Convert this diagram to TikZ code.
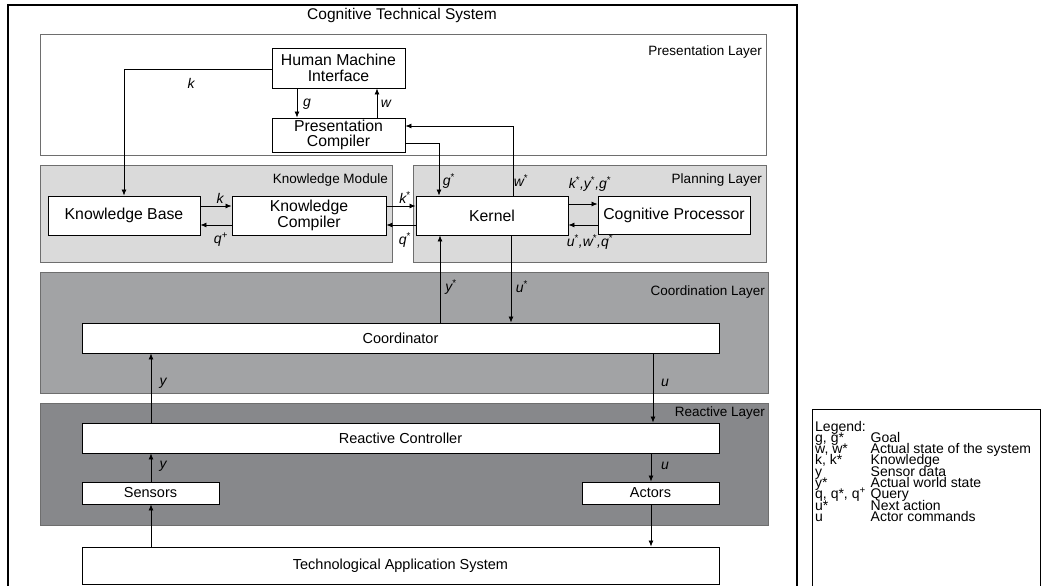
\documentclass[tikz,border=0pt]{standalone}
\usepackage{fontspec}
\setmainfont{Liberation Sans}
\usetikzlibrary{arrows.meta}
\definecolor{kmfill}{HTML}{DADADA}
\definecolor{cofill}{HTML}{A2A3A5}
\definecolor{refill}{HTML}{87888B}
\definecolor{layerline}{HTML}{6E6E6E}
\tikzset{
  box/.style={draw=black, fill=white, line width=0.9pt, align=center, inner sep=0pt, font=\fontsize{15.8}{16.5}\selectfont},
  lowbox/.style={box, font=\fontsize{14.5}{16}\selectfont},
  layer/.style={draw=layerline, line width=0.9pt},
  laylabel/.style={anchor=east, font=\fontsize{13.5}{15}\selectfont, inner sep=0pt},
  sig/.style={font=\itshape\fontsize{14}{15}\selectfont, inner sep=0pt},
  conn/.style={line width=0.8pt, -{Latex[length=6pt,width=5pt]}},
}
\newcommand{\st}[1]{#1\textsuperscript{\upshape *}}
\newcommand{\legrow}[3]{\node[anchor=base west, inner sep=0pt, font=\fontsize{14}{14}\selectfont] (#1a) at (815,#2) {#3};}
\begin{document}
\begin{tikzpicture}[x=1pt,y=-1pt]
\useasboundingbox (0,0) rectangle (1041,586);
% outer
\draw[line width=1.3pt] (8,592) -- (8,5) -- (797,5) -- (797,592);
\node[font=\fontsize{15.5}{17}\selectfont] (title) at (402,15) {Cognitive Technical System};
% layers
\draw[layer, fill=white] (40,34) rectangle (766,155);
\draw[layer, fill=kmfill] (40,165) rectangle (392,262);
\draw[layer, fill=kmfill] (413,165) rectangle (766,262);
\draw[layer, fill=cofill] (40,272) rectangle (768,393);
\draw[layer, fill=refill] (40,403) rectangle (768,525);
\node[laylabel] (lp) at (762,52) {Presentation Layer};
\node[laylabel] (lk) at (388,180) {Knowledge Module};
\node[laylabel] (lpl) at (762,180) {Planning Layer};
\node[laylabel] (lc) at (765,292) {Coordination Layer};
\node[laylabel] (lr) at (765,413) {Reactive Layer};
% boxes
\node[box, minimum width=133pt, minimum height=40pt] (hmi) at (338.5,68) {Human Machine\\Interface};
\node[box, minimum width=133pt, minimum height=34pt] (pc) at (338.5,135) {Presentation\\[-2pt]Compiler};
\node[box, minimum width=152pt, minimum height=39pt] (kb) at (124,215.5) {Knowledge Base};
\node[box, minimum width=154pt, minimum height=39pt] (kc) at (309,215.5) {Knowledge\\Compiler};
\node[box, minimum width=152pt, minimum height=39pt] (ker) at (492,215.5) {Kernel};
\node[box, minimum width=152pt, minimum height=38pt] (cp) at (674,215) {Cognitive Processor};
\node[lowbox, minimum width=637pt, minimum height=30pt] (coord) at (400.5,338) {Coordinator};
\node[lowbox, minimum width=637pt, minimum height=30pt] (rc) at (400.5,438) {Reactive Controller};
\node[lowbox, minimum width=137pt, minimum height=22pt] (sen) at (150.5,493) {Sensors};
\node[lowbox, minimum width=137pt, minimum height=22pt] (act) at (650.5,493) {Actors};
\node[lowbox, minimum width=637pt, minimum height=37pt] (tas) at (400.5,565.5) {Technological Application System};
% connectors
\coordinate (kcorner) at (124,69);
\draw[conn] (hmi.west |- kcorner) -- (kcorner) -- (kb.north);
\draw[conn] (297,0 |- hmi.south) -- (297,0 |- pc.north);
\draw[conn] (377,0 |- pc.north) -- (377,0 |- hmi.south);
\coordinate (gc) at (439,143);
\draw[conn] (pc.east |- gc) -- (gc) -- (gc |- ker.north);
\coordinate (wc) at (513,126);
\draw[conn] (wc |- ker.north) -- (wc) -- (pc.east |- wc);
\draw[conn] (kb.east |- 0,206) -- (kc.west |- 0,206);
\draw[conn] (kc.west |- 0,225) -- (kb.east |- 0,225);
\draw[conn] (kc.east |- 0,206) -- (ker.west |- 0,206);
\draw[conn] (ker.west |- 0,225) -- (kc.east |- 0,225);
\draw[conn] (ker.east |- 0,204) -- (cp.west |- 0,204);
\draw[conn] (cp.west |- 0,225) -- (ker.east |- 0,225);
\draw[conn] (440,0 |- coord.north) -- (440,0 |- ker.south);
\draw[conn] (511,0 |- ker.south) -- (511,0 |- coord.north);
\draw[conn] (151,0 |- rc.north) -- (151,0 |- coord.south);
\draw[conn] (653,0 |- coord.south) -- (653,0 |- rc.north);
\draw[conn] (151,0 |- sen.north) -- (151,0 |- rc.south);
\draw[conn] (651,0 |- rc.south) -- (651,0 |- act.north);
\draw[conn] (151,0 |- tas.north) -- (151,0 |- sen.south);
\draw[conn] (651,0 |- act.south) -- (651,0 |- tas.north);
% signal labels
\node[sig] (lk1) at (191,83) {k};
\node[sig] (lg) at (307,104) {g};
\node[sig] (lw) at (386,104) {w};
\node[sig] (lgs) at (449,181) {\st{g}};
\node[sig] (lws) at (521,181) {\st{w}};
\node[sig] (lkyg) at (590,184) {\st{k},\st{y},\st{g}};
\node[sig] (luwq) at (590,242) {\st{u},\st{w},\st{q}};
\node[sig] (lk2) at (220,198) {k};
\node[sig] (lqp) at (221,240) {q\textsuperscript{\upshape +}};
\node[sig] (lks) at (405,198) {\st{k}};
\node[sig] (lqs) at (405,240) {\st{q}};
\node[sig] (lys) at (451,287) {\st{y}};
\node[sig] (lus) at (522,287) {\st{u}};
\node[sig] (ly1) at (163,383) {y};
\node[sig] (lu1) at (665,383) {u};
\node[sig] (ly2) at (163,466) {y};
\node[sig] (lu2) at (665,466) {u};
% legend
\draw[line width=0.9pt] (812,592) -- (812,409) -- (1040,409) -- (1040,592);
\legrow{l0}{431}{Legend:}
\legrow{l1}{442.3}{g, g*}
\legrow{l2}{453.6}{w, w*}
\legrow{l3}{464.9}{k, k*}
\legrow{l4}{476.2}{y}
\legrow{l5}{487.5}{y*}
\legrow{l6}{498.8}{q, q*, q\textsuperscript{+}}
\legrow{l7}{510.1}{u*}
\legrow{l8}{521.4}{u}
\node[anchor=base west, inner sep=0pt, font=\fontsize{14}{14}\selectfont] (d1) at (870.5,442.3) {Goal};
\node[anchor=base west, inner sep=0pt, font=\fontsize{14}{14}\selectfont] (d2) at (870.5,453.6) {Actual state of the system};
\node[anchor=base west, inner sep=0pt, font=\fontsize{14}{14}\selectfont] (d3) at (870.5,464.9) {Knowledge};
\node[anchor=base west, inner sep=0pt, font=\fontsize{14}{14}\selectfont] (d4) at (870.5,476.2) {Sensor data};
\node[anchor=base west, inner sep=0pt, font=\fontsize{14}{14}\selectfont] (d5) at (870.5,487.5) {Actual world state};
\node[anchor=base west, inner sep=0pt, font=\fontsize{14}{14}\selectfont] (d6) at (870.5,498.8) {Query};
\node[anchor=base west, inner sep=0pt, font=\fontsize{14}{14}\selectfont] (d7) at (870.5,510.1) {Next action};
\node[anchor=base west, inner sep=0pt, font=\fontsize{14}{14}\selectfont] (d8) at (870.5,521.4) {Actor commands};
\end{tikzpicture}
\end{document}
